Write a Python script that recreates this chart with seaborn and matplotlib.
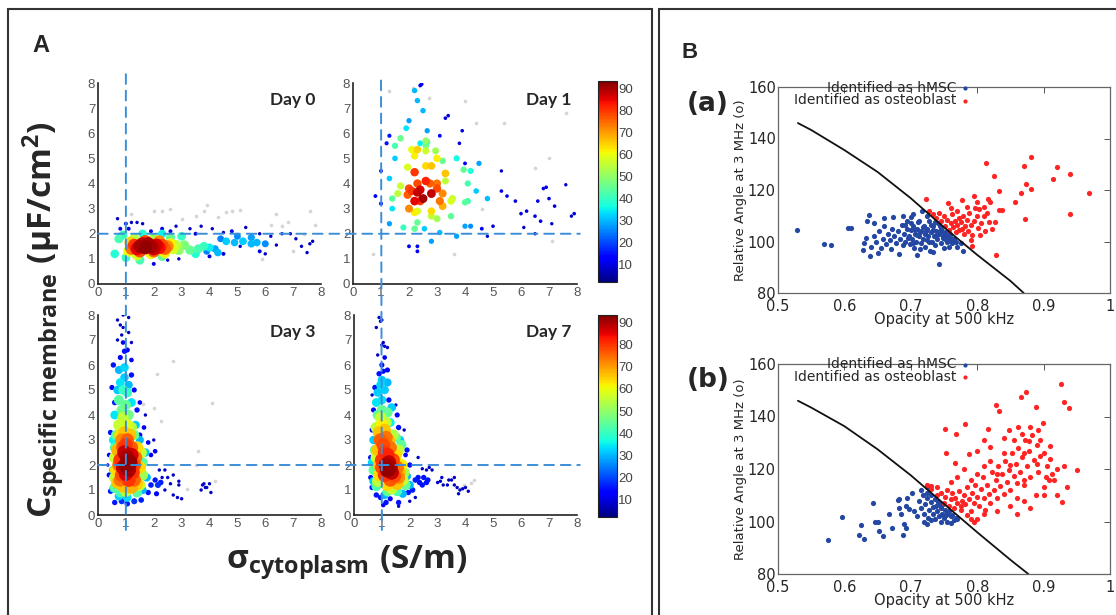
import matplotlib
matplotlib.use("Agg")
import matplotlib.pyplot as plt
import seaborn as sns
import pandas as pd
from matplotlib.patches import Rectangle, ConnectionPatch
from matplotlib.colors import Normalize
from matplotlib.cm import ScalarMappable

sns.set_style("white")
plt.rcParams["font.family"] = ["DejaVu Sans"]
plt.rcParams["mathtext.fontset"] = "custom"
plt.rcParams["mathtext.rm"] = "Open Sans"
plt.rcParams["mathtext.it"] = "Open Sans:italic"
plt.rcParams["mathtext.bf"] = "Open Sans:bold"

JET = matplotlib.colormaps["jet"]

# ---------------- Panel A data (sigma_cytoplasm, C_membrane, local density) ----------------
day0_x = [1.5, 1.7, 1.9, 2.0, 1.6, 1.8, 2.1, 1.4, 2.2,
          1.3, 2.3, 2.4, 1.2, 1.5, 2.0, 1.7, 2.2, 2.5,
          1.15, 1.1, 2.6, 2.7, 2.4, 1.4, 1.9, 2.8, 2.9, 1.3, 2.0,
          0.6, 0.75, 0.9, 1.0, 1.5, 2.3, 3.1, 3.3, 3.6, 2.6, 3.0, 3.8, 3.5, 4.0, 1.6, 2.3,
          4.3, 4.6, 4.9, 5.2, 5.5, 5.7, 5.5, 6.0, 4.2, 5.0, 4.4, 3.9,
          0.7, 0.8, 1.0, 1.2, 1.4, 1.6, 1.9, 2.3, 2.6, 2.8, 3.3, 3.5, 3.7, 4.1, 4.5, 4.8, 4.0, 4.5,
          5.1, 5.3, 5.8, 6.0, 6.2, 6.4, 6.9, 7.1, 7.3, 7.5, 7.7, 7.6, 2.0, 2.5, 2.9, 1.1, 5.8, 6.6]
day0_y = [1.5, 1.45, 1.5, 1.4, 1.6, 1.6, 1.55, 1.4, 1.45,
          1.55, 1.55, 1.4, 1.4, 1.3, 1.3, 1.7, 1.7, 1.5,
          1.65, 1.3, 1.6, 1.4, 1.25, 1.15, 1.2, 1.55, 1.35, 1.8, 1.8,
          1.2, 1.8, 1.95, 1.05, 0.95, 1.1, 1.55, 1.35, 1.4, 1.85, 1.9, 1.5, 1.2, 1.45, 2.0, 2.0,
          1.25, 1.7, 1.65, 1.7, 1.85, 1.65, 1.6, 1.6, 1.4, 1.9, 1.8, 1.3,
          2.6, 2.2, 2.4, 2.45, 2.45, 2.4, 2.1, 2.2, 2.1, 2.3, 2.2, 2.0, 2.3, 2.2, 2.05, 2.1, 1.1, 1.2,
          1.5, 2.25, 1.3, 1.2, 1.9, 1.55, 2.0, 1.8, 1.5, 1.25, 1.7, 1.6, 0.8, 0.95, 1.0, 2.2, 2.0, 2.0]
day0_d = [90, 92, 90, 88, 88, 90, 86, 85, 84,
          80, 78, 76, 74, 78, 76, 78, 72, 72,
          65, 60, 62, 58, 62, 58, 60, 55, 50, 55, 52,
          38, 42, 40, 40, 42, 45, 48, 45, 42, 45, 40, 40, 38, 35, 38, 35,
          30, 32, 30, 32, 28, 30, 30, 26, 28, 26, 25, 25,
          8, 10, 10, 8, 8, 8, 10, 10, 10, 8, 8, 10, 8, 8, 8, 10, 10, 10,
          8, 8, 10, 8, 8, 8, 8, 8, 8, 8, 8, 8, 10, 8, 8, 10, 8, 8]
day0_faint_x = [2.0, 2.3, 2.6, 3.0, 3.8, 3.9, 4.6, 4.8, 5.1, 6.2, 6.4, 6.8, 7.6, 7.8, 1.2, 5.9, 7.0, 7.4, 4.3, 3.5, 6.6]
day0_faint_y = [2.9, 2.9, 3.0, 2.6, 2.9, 3.15, 2.85, 2.9, 2.95, 2.35, 2.8, 2.45, 2.9, 2.35, 2.8, 1.0, 1.3, 2.0, 2.65, 2.7, 2.3]

day1_x = [2.3, 2.5, 2.4, 2.8, 2.2, 2.6,
          2.2, 2.0, 1.95, 2.3, 3.0, 2.75, 3.1, 2.0, 3.0, 2.4, 3.2, 2.1,
          2.3, 2.2, 2.6, 2.8, 3.0, 3.3, 2.8, 3.2, 2.2, 2.1, 1.95, 3.5,
          1.7, 1.6, 2.6, 2.95, 3.3, 3.55, 2.8, 2.6, 3.0, 2.3,
          2.2, 2.3, 1.4, 1.5, 1.7, 2.65, 2.6, 3.5, 3.95, 4.1, 4.0, 4.1, 3.7, 4.2, 1.8, 3.2,
          1.3, 1.4, 1.5, 1.9, 2.5, 2.3, 2.2, 2.4, 3.7, 4.4, 4.2, 3.1, 2.55, 1.3, 2.8, 4.0, 4.2, 4.8, 3.7, 4.5, 2.0, 2.65,
          1.2, 1.3, 0.8, 1.0, 1.0, 2.0, 2.3, 2.3, 3.4, 3.3, 3.9, 3.8, 4.0, 4.6, 4.8, 5.3, 5.5, 5.3, 5.8,
          6.0, 6.2, 6.1, 6.5, 6.5, 6.6, 6.7, 6.8, 6.9, 7.0, 7.1, 7.2, 7.6, 7.8, 7.9, 2.4, 2.45, 5.0, 3.1]
day1_y = [3.65, 3.4, 3.75, 3.6, 3.3, 4.1,
          4.45, 3.8, 3.55, 4.0, 3.8, 4.0, 3.3, 3.0, 4.0, 3.3, 3.6, 3.7,
          5.35, 5.1, 4.7, 4.7, 5.0, 4.4, 2.9, 3.1, 2.85, 5.35, 4.65, 3.3,
          3.9, 3.6, 5.3, 5.3, 4.1, 3.4, 2.7, 5.7, 2.6, 2.9,
          2.2, 2.45, 3.4, 5.5, 5.8, 5.65, 5.5, 2.7, 4.55, 4.0, 3.25, 3.3, 5.0, 4.5, 2.25, 4.9,
          4.2, 3.0, 5.0, 6.2, 6.9, 7.3, 7.7, 5.6, 5.0, 3.7, 4.5, 2.05, 2.2, 2.4, 1.7, 2.3, 2.3, 3.4, 1.9, 4.8, 6.5, 6.1,
          5.6, 5.9, 3.5, 4.5, 3.2, 1.5, 1.3, 1.5, 6.7, 6.6, 6.1, 5.6, 4.8, 2.2, 1.9, 3.7, 3.5, 4.5, 3.3,
          2.8, 2.9, 2.25, 2.7, 2.0, 3.3, 2.5, 3.8, 3.85, 3.4, 2.4, 3.1, 3.95, 2.7, 2.8, 7.9, 7.95, 2.3, 5.9]
day1_d = [88, 90, 86, 88, 85, 82,
          80, 78, 76, 78, 78, 76, 74, 72, 74, 80, 72, 80,
          65, 62, 64, 66, 62, 66, 64, 68, 62, 60, 58, 58,
          56, 55, 56, 52, 55, 56, 55, 50, 52, 58,
          45, 45, 44, 42, 46, 44, 46, 45, 45, 42, 44, 42, 36, 38, 40, 45,
          32, 34, 32, 34, 30, 30, 30, 35, 32, 32, 30, 30, 32, 28, 28, 28, 26, 30, 28, 28, 28, 28,
          15, 15, 12, 12, 14, 12, 12, 12, 10, 10, 10, 10, 12, 12, 8, 10, 10, 8, 10,
          10, 10, 8, 10, 8, 10, 10, 10, 10, 10, 8, 10, 8, 8, 10, 12, 12, 10, 12]
day1_faint_x = [0.7, 1.3, 2.15, 3.6, 4.0, 4.4, 5.4, 6.5, 7.0, 7.6, 7.1, 2.7, 4.6]
day1_faint_y = [1.2, 7.7, 7.8, 1.2, 7.3, 6.4, 6.4, 4.6, 5.0, 6.8, 1.7, 7.4, 3.0]

day3_x = [1.0, 1.05, 1.1, 0.95, 1.15, 0.9, 1.0, 1.2,
          0.8, 0.85, 1.25, 1.3, 1.0, 0.9, 1.2, 0.8, 1.1, 1.3, 0.75, 1.35, 1.05, 0.85,
          0.7, 1.4, 0.7, 1.4, 0.95, 1.15, 0.8, 1.5, 0.65, 1.2, 0.9,
          0.75, 1.05, 0.9, 1.2, 1.5, 0.6, 1.55, 1.6, 0.6, 1.0,
          0.85, 1.0, 0.75, 1.1, 1.3, 0.65, 0.6, 1.6, 1.4, 0.8, 1.05, 0.9, 0.6,
          0.8, 0.95, 0.75, 0.95, 1.1, 1.2, 1.35, 0.6, 0.55, 0.55, 0.55, 0.75, 1.6, 1.75, 1.7, 1.05, 1.5, 0.7,
          0.5, 0.6, 0.55, 0.8, 0.95, 1.05, 0.9, 1.2, 1.2, 1.3, 1.4, 1.5, 1.8, 1.9, 1.5, 0.45,
          0.4, 0.4, 0.45, 0.6, 0.85, 1.05, 1.3, 1.55, 1.8, 1.9, 2.05, 2.15, 2.1, 2.25, 2.05, 1.65,
          0.7, 0.8, 0.85, 0.9, 1.1, 0.7, 1.2, 1.1, 0.9, 2.2, 2.4, 2.5, 2.7, 2.6, 2.9, 2.9,
          3.0, 2.7, 2.85, 2.4, 2.3, 3.7, 3.75, 3.8, 3.9, 4.0, 4.05, 3.85, 2.0, 1.7, 0.35]
day3_y = [2.0, 2.3, 1.8, 2.5, 2.1, 1.9, 1.65, 2.4,
          2.2, 1.6, 1.7, 2.0, 2.8, 2.7, 2.7, 1.4, 1.4, 1.4, 2.0, 2.3, 3.0, 3.0,
          1.3, 1.25, 2.6, 2.7, 3.3, 3.2, 3.2, 1.9, 1.8, 1.1, 1.15,
          3.6, 3.6, 3.9, 3.5, 1.2, 1.5, 2.5, 1.6, 2.3, 0.95,
          4.2, 4.4, 4.6, 4.0, 3.2, 3.2, 1.1, 2.1, 0.9, 0.9, 4.9, 5.0, 2.7,
          5.3, 5.5, 5.8, 5.9, 5.2, 4.5, 3.6, 4.0, 3.0, 1.8, 1.05, 0.75, 1.0, 1.5, 2.5, 0.7, 3.0, 5.0,
          5.1, 4.5, 6.0, 6.3, 6.55, 6.6, 6.9, 6.2, 5.6, 5.0, 4.2, 3.2, 2.9, 2.4, 4.5, 3.3,
          2.4, 1.6, 0.95, 0.5, 0.55, 0.45, 0.55, 0.6, 0.9, 1.2, 1.4, 1.2, 0.85, 1.3, 2.55, 3.5,
          7.8, 7.6, 7.2, 7.5, 7.3, 7.0, 6.9, 7.9, 8.0, 1.8, 1.8, 1.5, 1.6, 1.25, 1.35, 1.2,
          0.65, 0.8, 0.7, 1.0, 1.5, 1.0, 1.2, 1.25, 1.1, 1.25, 0.9, 1.1, 3.0, 4.0, 2.0]
day3_d = [92, 90, 90, 88, 92, 88, 86, 86,
          80, 78, 80, 78, 80, 78, 76, 74, 80, 75, 74, 74, 76, 72,
          66, 65, 68, 64, 66, 66, 64, 64, 64, 68, 66,
          56, 58, 55, 54, 56, 55, 55, 52, 56, 55,
          46, 45, 44, 46, 45, 45, 44, 44, 44, 42, 40, 40, 42,
          34, 32, 30, 33, 30, 34, 32, 34, 35, 34, 30, 32, 30, 30, 32, 33, 30, 32,
          14, 16, 15, 14, 15, 14, 12, 12, 15, 14, 15, 14, 12, 12, 12, 15,
          12, 14, 15, 15, 18, 16, 18, 16, 15, 16, 15, 18, 14, 16, 12, 12,
          8, 8, 8, 8, 8, 8, 8, 8, 8, 8, 8, 8, 8, 8, 8, 8,
          8, 8, 8, 8, 8, 8, 8, 8, 8, 8, 8, 8, 8, 8, 8]
day3_faint_x = [1.6, 2.1, 2.0, 2.25, 2.7, 3.6, 4.1, 4.2, 3.2, 3.5]
day3_faint_y = [4.45, 5.65, 4.3, 3.75, 6.15, 2.55, 4.5, 1.35, 1.05, 2.0]

day7_x = [1.2, 1.3, 1.25, 1.35, 1.15,
          1.0, 1.1, 1.05, 1.2, 1.4, 1.45, 1.3, 1.1, 1.0, 1.55, 0.95, 1.15, 1.3, 1.6,
          0.9, 1.1, 1.25, 0.85, 1.5, 1.65, 1.55, 1.2, 0.9, 0.9, 1.0, 1.7,
          0.95, 1.15, 0.8, 1.4, 1.35, 1.75, 0.85, 1.6, 1.8, 0.8,
          1.0, 1.2, 0.85, 1.5, 1.7, 1.85, 1.2, 0.75, 0.7, 0.8, 1.55,
          1.0, 1.1, 0.95, 1.2, 1.0, 0.8, 1.35, 1.3, 1.65, 0.7, 0.65, 0.7, 1.9, 2.0, 1.1, 1.75, 0.85,
          0.75, 0.9, 1.05, 1.2, 1.25, 1.4, 1.55, 1.6, 0.7, 0.65, 0.6, 0.6, 0.65, 0.95, 1.15, 1.3, 1.6,
          1.95, 2.1, 2.2, 2.35, 2.5, 2.6, 2.65, 2.45, 2.0, 1.85, 1.9, 0.8, 1.05, 2.3, 1.0, 1.1,
          0.9, 0.95, 1.0, 1.0, 1.1, 1.2, 0.85, 1.05, 0.8, 0.65, 1.5, 1.8, 2.3, 2.45, 2.6, 2.7, 2.8, 3.0,
          3.1, 3.15, 3.2, 3.35, 3.4, 3.5, 3.6, 3.6, 3.7, 3.8, 3.9, 4.0, 4.1, 3.75, 2.0, 2.2, 1.6]
day7_y = [1.8, 1.9, 2.1, 1.7, 2.0,
          2.2, 2.5, 2.8, 2.4, 2.2, 1.55, 1.4, 1.6, 1.9, 1.9, 3.0, 3.1, 2.7, 1.5,
          3.3, 3.4, 3.0, 2.6, 2.4, 1.7, 1.25, 1.2, 1.6, 2.0, 3.6, 2.0,
          3.9, 3.7, 3.5, 3.2, 1.05, 1.4, 1.35, 2.6, 1.7, 2.3,
          4.2, 4.1, 4.0, 3.1, 2.8, 1.2, 0.95, 2.6, 1.8, 1.15, 0.95,
          4.6, 5.0, 5.2, 5.3, 5.4, 4.5, 4.3, 3.7, 3.0, 3.0, 2.1, 1.35, 1.55, 1.2, 0.8, 0.85, 4.9,
          5.1, 5.65, 5.75, 5.8, 4.6, 4.3, 4.0, 3.5, 4.2, 3.4, 2.3, 1.5, 1.1, 0.7, 0.5, 0.65, 0.5,
          0.9, 1.0, 1.4, 1.3, 1.5, 1.3, 1.4, 1.2, 2.0, 2.4, 2.6, 0.8, 0.4, 1.5, 6.0, 6.3,
          7.9, 7.75, 7.8, 6.8, 6.75, 6.7, 6.4, 6.9, 7.5, 4.8, 4.4, 3.4, 2.3, 1.85, 1.8, 1.9, 1.8, 1.3,
          1.35, 1.5, 1.2, 1.2, 1.4, 1.4, 1.2, 1.5, 1.1, 1.0, 1.05, 1.1, 0.95, 0.85, 0.55, 0.7, 0.35]
day7_d = [92, 90, 88, 88, 90,
          80, 80, 78, 82, 78, 78, 76, 80, 78, 74, 76, 74, 74, 72,
          66, 66, 66, 66, 64, 66, 66, 64, 64, 66, 62, 62,
          56, 55, 55, 54, 56, 56, 55, 55, 52, 56,
          45, 45, 44, 45, 44, 45, 44, 45, 44, 42, 42,
          34, 32, 33, 30, 32, 34, 32, 35, 32, 32, 33, 32, 30, 30, 30, 30, 32,
          15, 15, 14, 14, 15, 16, 14, 15, 14, 14, 15, 14, 15, 15, 15, 14, 15,
          15, 16, 16, 15, 15, 15, 15, 15, 15, 12, 15, 15, 12, 15, 14, 12,
          8, 8, 8, 8, 8, 8, 8, 8, 8, 8, 8, 8, 8, 8, 8, 8, 8, 8,
          8, 8, 8, 8, 8, 8, 8, 8, 8, 8, 8, 8, 8, 8, 8, 8, 8]
day7_faint_x = [4.2, 4.3, 3.95]
day7_faint_y = [1.3, 1.4, 1.2]

day_titles = ["Day 0", "Day 1", "Day 3", "Day 7"]
sigma_ref = 1.0
cm_ref = 2.0
axis_ticks_A = [0, 1, 2, 3, 4, 5, 6, 7, 8]
cbar_ticks = [10, 20, 30, 40, 50, 60, 70, 80, 90]
density_range = (2, 93.5)

# ---------------- Panel B data (opacity, relative angle) ----------------
ba_blue_x = [0.529, 0.570, 0.580, 0.606, 0.610, 0.628, 0.634, 0.637, 0.638, 0.630,
             0.632, 0.640, 0.645, 0.648, 0.652, 0.655, 0.658, 0.660, 0.662, 0.665,
             0.668, 0.670, 0.672, 0.673, 0.675, 0.678, 0.680, 0.682, 0.684, 0.686,
             0.688, 0.690, 0.692, 0.694, 0.695, 0.697, 0.699, 0.700, 0.702, 0.704,
             0.705, 0.706, 0.708, 0.710, 0.710, 0.712, 0.713, 0.715, 0.716, 0.718,
             0.717, 0.720, 0.721, 0.722, 0.724, 0.725, 0.726, 0.728, 0.729, 0.730,
             0.732, 0.733, 0.735, 0.736, 0.738, 0.740, 0.741, 0.742, 0.743, 0.745,
             0.746, 0.748, 0.750, 0.752, 0.754, 0.756, 0.758, 0.760, 0.762, 0.765,
             0.768, 0.770, 0.775, 0.778, 0.700, 0.688, 0.660, 0.645, 0.650,
             0.691, 0.696, 0.701, 0.703, 0.707, 0.709, 0.711, 0.714, 0.719, 0.723,
             0.727, 0.731, 0.734, 0.737, 0.739, 0.744, 0.747, 0.749, 0.751, 0.753,
             0.755, 0.757, 0.759, 0.761, 0.763, 0.714, 0.724, 0.734, 0.744, 0.704]
ba_blue_y = [104.4, 99.1, 98.7, 105.1, 105.3, 96.8, 107.9, 110.4, 94.3, 99.5,
             101.5, 98, 102, 100, 104, 97.5, 101, 106, 99, 103,
             100.5, 97, 105, 109.5, 102, 99.5, 104, 95.2, 101, 106.5,
             98.5, 103, 100, 105, 108, 102, 99, 104.5, 101, 106,
             97.5, 103, 100, 94.7, 105, 102, 108, 99.5, 104, 101,
             111.7, 106, 103, 98, 100.5, 105, 102, 108, 96.5, 103.5,
             100, 106, 102, 98.5, 104, 101, 107, 91.1, 103, 99.5,
             105, 101.5, 97.5, 103, 100, 102.5, 98, 101.5, 99.5, 101,
             100, 98, 99.5, 96.5, 109.5, 110, 109, 107, 95.5,
             106.5, 101.5, 107, 99.5, 104.5, 102.5, 107.5, 103.5, 105.5, 104,
             100, 106.5, 104.5, 107.5, 102.5, 106, 104, 102, 101, 103.5,
             102, 101.5, 103, 100.5, 100.5, 97, 110, 96, 104, 110.5]
ba_red_x = [0.7235, 0.7565, 0.7765, 0.7945, 0.8125, 0.825, 0.8335, 0.8575, 0.87, 0.8815,
            0.874, 0.8805, 0.866, 0.8715, 0.829, 0.9135, 0.9205, 0.9405, 0.94, 0.9685,
            0.8165, 0.82, 0.8375, 0.8325, 0.8275, 0.81, 0.8025, 0.8015, 0.8035, 0.7925, 0.79,
            0.745, 0.75, 0.752, 0.755, 0.758, 0.76, 0.762, 0.764, 0.766, 0.768,
            0.77, 0.772, 0.773, 0.775, 0.777, 0.778, 0.78, 0.782, 0.784, 0.786,
            0.788, 0.79, 0.792, 0.795, 0.797, 0.80, 0.805, 0.81, 0.812, 0.815,
            0.818, 0.822, 0.738, 0.742, 0.76, 0.77, 0.785, 0.80, 0.728, 0.733]
ba_red_y = [116.5, 115.0, 116.3, 117.8, 130.5, 125.4, 119.7, 115.5, 129.2, 133.0,
            122.2, 120.3, 118.8, 108.6, 94.9, 124.4, 128.8, 126.3, 110.5, 119.0,
            116.5, 115.5, 112.1, 112.3, 107.6, 109.8, 112.7, 105.1, 102.5, 98.1, 100.6,
            108, 110, 106, 108.5, 104.5, 107, 110.5, 105.5, 108, 103.5,
            106.5, 109, 104.5, 107.5, 105, 110, 103, 106, 108.5, 104,
            111, 106.5, 102.5, 108, 113, 110, 107, 113.5, 104, 111,
            107.5, 105, 109, 111, 113, 112, 113.5, 115.5, 112, 110.5]
ba_curve_x = [0.53, 0.55, 0.60, 0.65, 0.70, 0.75, 0.80, 0.85, 0.87]
ba_curve_y = [146, 143.3, 135.5, 127, 116.8, 105.5, 94.8, 84.7, 80]

bb_blue_x = [0.576, 0.5965, 0.6215, 0.629, 0.625, 0.6425, 0.6465, 0.65, 0.6515, 0.6575,
             0.6665, 0.6715, 0.68, 0.6825, 0.6815, 0.685, 0.689, 0.69, 0.6925, 0.695,
             0.6935, 0.697, 0.7015,
             0.705, 0.71, 0.712, 0.715, 0.718, 0.72, 0.722, 0.724, 0.726, 0.728,
             0.73, 0.731, 0.733, 0.734, 0.736, 0.737, 0.738, 0.74, 0.741, 0.742,
             0.743, 0.745, 0.746, 0.747, 0.748, 0.75, 0.752, 0.753, 0.755, 0.757,
             0.76, 0.762, 0.765, 0.768, 0.77, 0.745, 0.73, 0.72, 0.76, 0.725,
             0.725, 0.715, 0.725, 0.755]
bb_blue_y = [92.9, 101.7, 94.9, 93.3, 98.6, 107.2, 99.9, 99.9, 96.4, 94.5,
             102.8, 97.7, 108.3, 108.5, 105, 102.8, 94.8, 99, 97.7, 108.8,
             106, 104.7, 110.7,
             104, 102, 108, 105, 110, 103, 106.5, 109, 101.5, 104.5,
             107.5, 110, 103, 105.5, 108.5, 101, 106, 104, 107.5, 102,
             107, 105, 106, 103, 106.5, 101.5, 104.5, 102.5, 103, 104,
             102, 102.5, 100.5, 101.5, 101, 100, 100.5, 100, 99.5, 111,
             113, 112, 99, 100]
bb_red_x = [0.725, 0.73, 0.74, 0.745, 0.75, 0.752, 0.755, 0.758, 0.76, 0.762,
            0.765, 0.767, 0.77, 0.772, 0.775, 0.777, 0.78, 0.782, 0.785, 0.787,
            0.79, 0.792, 0.795, 0.797, 0.80, 0.80, 0.803, 0.805, 0.808, 0.81,
            0.812, 0.815, 0.818, 0.82, 0.822, 0.825, 0.828, 0.83, 0.832, 0.835,
            0.838, 0.84, 0.842, 0.845, 0.848, 0.85, 0.852, 0.855, 0.858, 0.86,
            0.862, 0.865, 0.868, 0.87, 0.872, 0.875, 0.878, 0.88, 0.882, 0.885,
            0.888, 0.89, 0.892, 0.895, 0.90, 0.905, 0.908, 0.912, 0.92, 0.928, 0.95,
            0.751, 0.753, 0.766, 0.768, 0.782, 0.788, 0.80, 0.81, 0.816, 0.82,
            0.828, 0.833, 0.84, 0.848, 0.855, 0.866, 0.868, 0.874, 0.88, 0.889,
            0.895, 0.899, 0.91, 0.915, 0.926, 0.931, 0.939, 0.904,
            0.79, 0.795, 0.81, 0.83, 0.85, 0.87, 0.88, 0.90, 0.86,
            0.76, 0.77, 0.78, 0.74, 0.73, 0.775, 0.785, 0.80, 0.82, 0.84,
            0.86, 0.87, 0.89, 0.90, 0.91, 0.93, 0.935, 0.92, 0.87, 0.85,
            0.83, 0.79, 0.81, 0.862, 0.878, 0.892]
bb_red_y = [114, 112.5, 110, 111, 107, 109.5, 112, 106, 108.5, 111,
            105, 109, 107, 111.5, 104.5, 108, 110, 106.5, 113, 108.5,
            104, 111, 107, 114, 109.5, 101, 106, 112.5, 117, 109,
            104.5, 114, 110.5, 107, 119, 112, 116, 109, 121, 113.5,
            118, 110.5, 123, 115, 119.5, 112, 126, 117.5, 122, 109,
            128, 119, 124.5, 114, 131, 121, 127, 117, 133, 123.5,
            110, 129, 119, 125, 113, 121, 116, 118, 120, 107.4, 119.6,
            135.3, 126.1, 122.2, 133.5, 137.3, 125.6, 127, 131, 135.3, 128.5,
            144.3, 142.1, 132, 134.9, 131, 147.3, 133.5, 149.5, 136, 143.6,
            131, 137.6, 128.6, 115.9, 152.5, 145.5, 143.3, 117,
            101, 100, 103, 104, 106, 108, 105, 110, 103,
            115, 117, 120, 113, 113.5, 106, 102.5, 118, 123, 126,
            114.5, 126, 122, 126, 124, 121, 113, 110, 116, 121.5,
            118, 116, 121, 136, 130.5, 135]
bb_curve_x = [0.53, 0.55, 0.60, 0.65, 0.70, 0.75, 0.80, 0.85, 0.877]
bb_curve_y = [146, 143.4, 136.3, 127.5, 117.6, 106.7, 95.9, 85.4, 80]

opacity_ticks = [0.5, 0.6, 0.7, 0.8, 0.9, 1.0]
opacity_labels = ["0.5", "0.6", "0.7", "0.8", "0.9", "1"]
angle_ticks = [80, 100, 120, 140, 160]
legend_labels = ["Identified as hMSC", "Identified as osteoblast"]

# ---------------- Figure ----------------
W, H = 1116, 615
fig = plt.figure(figsize=(W / 100, H / 100), dpi=100)


def box(l, t, r, b):
    return [l / W, 1 - b / H, (r - l) / W, (b - t) / H]


def density_panel(ax, xs, ys, ds, fx, fy, title, max_size):
    faint = pd.DataFrame({"x": fx, "y": fy})
    sns.scatterplot(data=faint, x="x", y="y", color="#d6d6d6", s=7, linewidth=0,
                    ax=ax, legend=False)
    df = pd.DataFrame({"x": xs, "y": ys, "d": ds}).sort_values("d", kind="stable")
    sns.scatterplot(data=df, x="x", y="y", hue="d", palette=JET, hue_norm=density_range,
                    size="d", sizes=(6, max_size), size_norm=(8, 92), linewidth=0,
                    ax=ax, legend=False)
    ax.set_xlim(0, 8)
    ax.set_ylim(0, 8)
    ax.set_xticks(axis_ticks_A)
    ax.set_yticks(axis_ticks_A)
    ax.set_xlabel("")
    ax.set_ylabel("")
    ax.tick_params(direction="in", length=2.5, width=0.8, labelsize=9.5,
                   labelcolor="#555555", color="#333333", pad=2)
    for lab in ax.get_xticklabels() + ax.get_yticklabels():
        lab.set_fontfamily("Liberation Sans")
    for sp in ["top", "right"]:
        ax.spines[sp].set_visible(False)
    for sp in ["left", "bottom"]:
        ax.spines[sp].set_color("#222222")
        ax.spines[sp].set_linewidth(1.2)
    ax.text(0.975, 0.915, title, transform=ax.transAxes, ha="right", va="center",
            fontsize=12.5, fontweight="bold", family="Lato")


axes_A = [fig.add_axes(box(98, 83, 321, 284)),
          fig.add_axes(box(353, 83, 577, 284)),
          fig.add_axes(box(98, 315, 321, 515)),
          fig.add_axes(box(354, 315, 577, 515))]
panel_data = [(day0_x, day0_y, day0_d, day0_faint_x, day0_faint_y),
              (day1_x, day1_y, day1_d, day1_faint_x, day1_faint_y),
              (day3_x, day3_y, day3_d, day3_faint_x, day3_faint_y),
              (day7_x, day7_y, day7_d, day7_faint_x, day7_faint_y)]
panel_max_size = [95, 42, 115, 115]
for ax, pdata, title, ms in zip(axes_A, panel_data, day_titles, panel_max_size):
    density_panel(ax, *pdata, title, ms)

# dashed reference lines spanning the panels
dash_kw = dict(linestyle=(0, (5, 3.5)), color="#3b8ed8", lw=1.4, zorder=5)
fig.add_artist(ConnectionPatch(xyA=(sigma_ref, 8.35), coordsA=axes_A[0].transData,
                               xyB=(sigma_ref, -0.6), coordsB=axes_A[2].transData, **dash_kw))
fig.add_artist(ConnectionPatch(xyA=(sigma_ref, 8.1), coordsA=axes_A[1].transData,
                               xyB=(sigma_ref, -0.6), coordsB=axes_A[3].transData, **dash_kw))
fig.add_artist(ConnectionPatch(xyA=(0, cm_ref), coordsA=axes_A[0].transData,
                               xyB=(8.1, cm_ref), coordsB=axes_A[1].transData, **dash_kw))
fig.add_artist(ConnectionPatch(xyA=(0, cm_ref), coordsA=axes_A[2].transData,
                               xyB=(8.1, cm_ref), coordsB=axes_A[3].transData, **dash_kw))

# colorbars
sm = ScalarMappable(norm=Normalize(*density_range), cmap=JET)
for cb_box in [box(598, 81, 617, 282), box(598, 315, 617, 517)]:
    cax = fig.add_axes(cb_box)
    cb = fig.colorbar(sm, cax=cax)
    cb.set_ticks(cbar_ticks)
    cax.tick_params(direction="in", length=3, width=0.7, labelsize=9.5,
                    labelcolor="#444444", pad=1)
    for lab in cax.get_yticklabels():
        lab.set_fontfamily("Liberation Sans")
    cb.outline.set_linewidth(0.8)
    cb.outline.set_edgecolor("#222222")

# big axis labels of panel A
fig.text(44 / W, 1 - 320 / H,
         r"$\mathbf{C}_{\mathbf{specific\ membrane}}\ \mathbf{(µF/cm^{2})}$",
         rotation=90, fontsize=24, ha="center", va="center")
fig.text(347 / W, 1 - 563 / H,
         r"$\mathbf{σ}_{\mathbf{cytoplasm}}\ \mathbf{(S/m)}$",
         fontsize=24, ha="center", va="center")

fig.text(41 / W, 1 - 45 / H, "A", fontsize=17, fontweight="bold", family="Liberation Sans",
         ha="center", va="center")
fig.text(690 / W, 1 - 52 / H, "B", fontsize=16, fontweight="bold", family="Liberation Sans",
         ha="center", va="center")


def class_panel(ax, bx, by, rx, ry, cx, cy, tag, tag_y):
    sns.lineplot(x=cx, y=cy, sort=False, estimator=None, color="#111111", lw=1.3, ax=ax)
    sns.scatterplot(x=bx, y=by, color="#2347a3", s=14, linewidth=0, ax=ax,
                    label=legend_labels[0])
    sns.scatterplot(x=rx, y=ry, color="#ff2424", s=14, linewidth=0, ax=ax,
                    label=legend_labels[1])
    ax.set_xlim(0.5, 1.0)
    ax.set_ylim(80, 160)
    ax.set_xticks(opacity_ticks)
    ax.set_xticklabels(opacity_labels)
    ax.set_yticks(angle_ticks)
    ax.tick_params(direction="in", top=True, right=True, length=4, width=0.7,
                   color="#555555", labelsize=10.5)
    ax.tick_params(axis="x", pad=4.5)
    ax.tick_params(axis="y", pad=1.5)
    for sp in ax.spines.values():
        sp.set_color("#666666")
        sp.set_linewidth(0.9)
    ax.set_xlabel("Opacity at 500 kHz", fontsize=10.5, labelpad=-1.5)
    ax.set_ylabel("Relative Angle at 3 MHz (o)", fontsize=9.5, labelpad=1)
    ax.legend(loc="upper right", bbox_to_anchor=(0.60, 1.065), frameon=False,
              markerfirst=False, fontsize=10, handletextpad=0.2, labelspacing=-0.1,
              borderpad=0, handlelength=0.8, markerscale=0.8)
    fig.text(708 / W, 1 - tag_y / H, tag, fontsize=19, fontweight="bold",
             ha="center", va="center")


ax_ba = fig.add_axes(box(778, 87, 1110, 293))
class_panel(ax_ba, ba_blue_x, ba_blue_y, ba_red_x, ba_red_y, ba_curve_x, ba_curve_y, "(a)", 104)
ax_bb = fig.add_axes(box(778, 364, 1110, 574))
class_panel(ax_bb, bb_blue_x, bb_blue_y, bb_red_x, bb_red_y, bb_curve_x, bb_curve_y, "(b)", 380)

# panel frames
fig.add_artist(Rectangle((8 / W, -0.05), 644 / W, 1.05 - 9 / H, transform=fig.transFigure,
                         fill=False, lw=1.5, ec="#333333"))
fig.add_artist(Rectangle((659 / W, -0.05), 0.5, 1.05 - 9 / H, transform=fig.transFigure,
                         fill=False, lw=1.5, ec="#333333"))

fig.savefig("out.png", dpi=100)
